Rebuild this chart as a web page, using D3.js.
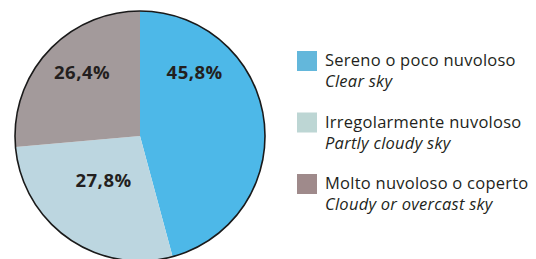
<!DOCTYPE html>
<html>
<head>
<meta charset="utf-8">
<script src="https://cdn.jsdelivr.net/npm/d3@7"></script>
<style>
  body { margin: 0; background: #fff; }
  svg { display: block; }
</style>
</head>
<body>
<script>
// data
const categories = ['Sereno o poco nuvoloso', 'Irregolarmente nuvoloso', 'Molto nuvoloso o coperto'];
const categoriesEn = ['Clear sky', 'Partly cloudy sky', 'Cloudy or overcast sky'];
const values = [45.8, 27.8, 26.4];
const sliceColors = ['#4db8e8', '#bcd6e0', '#a39a9b'];
const legendColors = ['#63b7db', '#bdd6d4', '#9f8a8b'];
// where each % label sits: fraction through the slice, fraction of the radius
const labelAt = [[0.247, 0.67], [0.544, 0.46], [0.556, 0.69]];

const width = 536, height = 259;
const cx = 140, cy = 136, r = 125;

const svg = d3.create('svg')
    .attr('width', width)
    .attr('height', height)
    .attr('viewBox', [0, 0, width, height]);

const pie = d3.pie().sort(null).value(d => d)(values);
const arc = d3.arc().innerRadius(0).outerRadius(r);

const g = svg.append('g').attr('transform', `translate(${cx},${cy})`);

g.selectAll('path')
  .data(pie)
  .join('path')
    .attr('d', arc)
    .attr('fill', (d, i) => sliceColors[i]);

g.append('circle')
    .attr('r', r)
    .attr('fill', 'none')
    .attr('stroke', '#1a1a1a')
    .attr('stroke-width', 1.6);

g.selectAll('text')
  .data(pie)
  .join('text')
    .attr('transform', (d, i) => {
      const a = d.startAngle + (d.endAngle - d.startAngle) * labelAt[i][0];
      const rr = r * labelAt[i][1];
      return `translate(${rr * Math.sin(a)},${-rr * Math.cos(a)})`;
    })
    .attr('text-anchor', 'middle')
    .attr('dy', '0.35em')
    .attr('font-family', '"Open Sans", sans-serif')
    .attr('font-weight', 'bold')
    .attr('font-size', 18.5)
    .attr('letter-spacing', 0.5)
    .attr('fill', '#231f20')
    .text(d => d.data.toFixed(1).replace('.', ',') + '%');

// legend
const legend = svg.append('g')
  .selectAll('g')
  .data(categories)
  .join('g')
    .attr('transform', (d, i) => `translate(297,${51 + i * 61.5})`);

legend.append('rect')
    .attr('width', 20)
    .attr('height', 20)
    .attr('fill', (d, i) => legendColors[i]);

legend.append('text')
    .attr('x', 28)
    .attr('y', 15)
    .attr('font-family', '"Open Sans", sans-serif')
    .attr('font-size', 16.5)
    .attr('letter-spacing', 0.25)
    .attr('fill', '#231f20')
    .text(d => d);

legend.append('text')
    .attr('x', 28)
    .attr('y', 36)
    .attr('font-family', '"Open Sans", sans-serif')
    .attr('font-style', 'italic')
    .attr('font-size', 16.5)
    .attr('letter-spacing', 0.25)
    .attr('fill', '#231f20')
    .text((d, i) => categoriesEn[i]);

document.body.append(svg.node());
</script>
</body>
</html>
